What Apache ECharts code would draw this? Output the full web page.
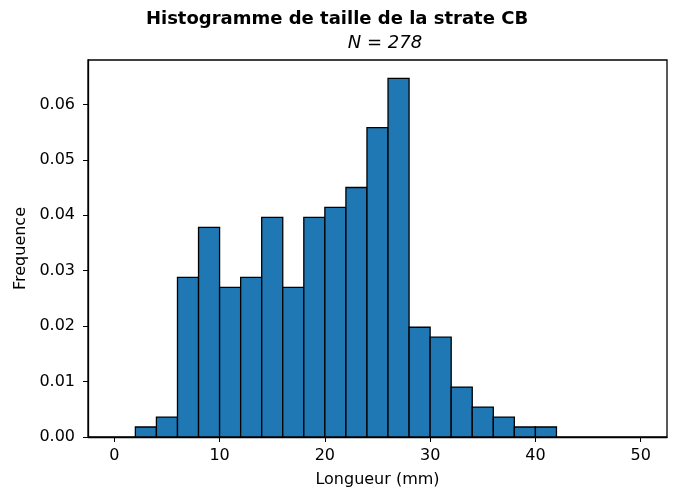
<!DOCTYPE html>
<html>
<head>
<meta charset="utf-8">
<script src="https://cdn.jsdelivr.net/npm/echarts@6/dist/echarts.min.js"></script>
<style>
  html, body { margin: 0; padding: 0; background: #fff; }
  #chart { width: 674px; height: 495px; }
</style>
</head>
<body>
<div id="chart"></div>
<script>
// Bin edges (mm) and density per bin for the CB stratum length histogram
const binEdges = [2, 4, 6, 8, 10, 12, 14, 16, 18, 20, 22, 24, 26, 28, 30, 32, 34, 36, 38, 40, 42];
const densities = [0.0018, 0.0036, 0.0288, 0.0378, 0.0270, 0.0288, 0.0396, 0.0270, 0.0396, 0.0414,
                   0.0450, 0.0558, 0.0647, 0.0198, 0.0180, 0.0090, 0.0054, 0.0036, 0.0018, 0.0018];
const xTicks = [0, 10, 20, 30, 40, 50];
const yTicks = [0, 0.01, 0.02, 0.03, 0.04, 0.05, 0.06];

const FONT = 'DejaVu Sans';

const bins = densities.map((d, i) => [binEdges[i], binEdges[i + 1], d]);

const chart = echarts.init(document.getElementById('chart'), null, { renderer: 'canvas' });

chart.setOption({
  animation: false,
  backgroundColor: '#ffffff',
  title: [
    {
      text: 'Histogramme de taille de la strate CB',
      left: 'center',
      top: 5,
      textStyle: { fontFamily: FONT, fontSize: 18, fontWeight: 'bold', color: '#000' }
    },
    {
      text: 'N = 278',
      left: 380,
      textAlign: 'center',
      top: 29,
      textStyle: { fontFamily: FONT, fontSize: 18, fontStyle: 'italic', fontWeight: 'normal', color: '#000' }
    }
  ],
  grid: {
    left: 88, right: 7, top: 60, bottom: 58,
    show: true, borderColor: '#000', borderWidth: 1.3, backgroundColor: 'transparent'
  },
  xAxis: {
    type: 'value',
    min: -2.5, max: 52.5,
    name: 'Longueur (mm)',
    nameLocation: 'middle',
    nameGap: 35,
    nameTextStyle: { fontFamily: FONT, fontSize: 16, color: '#000' },
    splitLine: { show: false },
    axisLine: { show: true, onZero: false, lineStyle: { color: '#000', width: 1.3 } },
    axisTick: { show: true, length: 5, lineStyle: { color: '#000', width: 1 }, customValues: xTicks },
    axisLabel: { fontFamily: FONT, fontSize: 16, color: '#000', margin: 11, customValues: xTicks }
  },
  yAxis: {
    type: 'value',
    min: 0, max: 0.068,
    name: 'Frequence',
    nameLocation: 'middle',
    nameGap: 59,
    nameTextStyle: { fontFamily: FONT, fontSize: 16, color: '#000' },
    splitLine: { show: false },
    axisLine: { show: true, onZero: false, lineStyle: { color: '#000', width: 1.3 } },
    axisTick: { show: true, length: 5, lineStyle: { color: '#000', width: 1 }, customValues: yTicks },
    axisLabel: {
      fontFamily: FONT, fontSize: 16, color: '#000', margin: 13,
      customValues: yTicks,
      formatter: v => v.toFixed(2)
    }
  },
  series: [{
    type: 'custom',
    data: bins,
    encode: { x: [0, 1], y: 2 },
    renderItem: function (params, api) {
      const p0 = api.coord([api.value(0), 0]);
      const p1 = api.coord([api.value(1), api.value(2)]);
      return {
        type: 'rect',
        shape: { x: p0[0], y: p1[1], width: p1[0] - p0[0], height: p0[1] - p1[1] },
        style: { fill: '#1f77b4', stroke: '#000', lineWidth: 1.3 }
      };
    }
  }]
});
</script>
</body>
</html>
